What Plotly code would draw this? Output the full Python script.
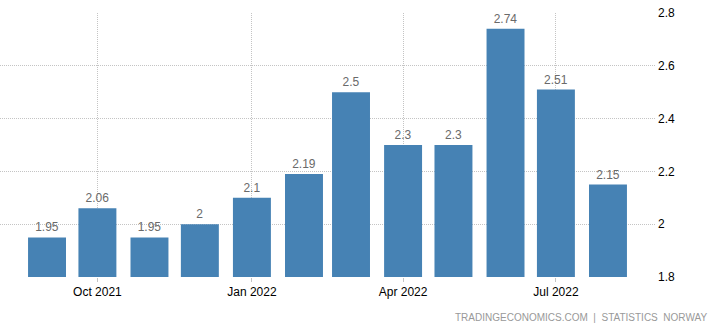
import plotly.graph_objects as go

# Monthly values, Sep 2021 - Aug 2022
months = ["2021-09-01", "2021-10-01", "2021-11-01", "2021-12-01",
          "2022-01-01", "2022-02-01", "2022-03-01", "2022-04-01",
          "2022-05-01", "2022-06-01", "2022-07-01", "2022-08-01"]
values = [1.95, 2.06, 1.95, 2, 2.1, 2.19, 2.5, 2.3, 2.3, 2.74, 2.51, 2.15]
value_labels = ["1.95", "2.06", "1.95", "2", "2.1", "2.19", "2.5", "2.3",
                "2.3", "2.74", "2.51", "2.15"]
y_ticks = [1.8, 2, 2.2, 2.4, 2.6, 2.8]
y_tick_text = ["1.8", "2", "2.2", "2.4", "2.6", "2.8"]

DAY_MS = 86400000
bar_width = 22.6 * DAY_MS
FONT = "Liberation Sans, Arial, sans-serif"
GRID = dict(showgrid=True, gridcolor="#c4c4c4", griddash="1px,1px", gridwidth=1)

fig = go.Figure(
    go.Bar(
        x=months,
        y=values,
        width=[bar_width] * len(months),
        marker=dict(color="#4682B4", line=dict(width=0)),
        text=value_labels,
        textposition="outside",
        textfont=dict(family=FONT, size=12, color="#6a6a6a"),
        cliponaxis=False,
        hoverinfo="x+y",
    )
)

fig.update_layout(
    width=724,
    height=331,
    margin=dict(l=0, r=69, t=13, b=54),
    paper_bgcolor="white",
    plot_bgcolor="white",
    showlegend=False,
    font=dict(family=FONT, size=12, color="#000000"),
    xaxis=dict(
        type="date",
        range=["2021-08-04", "2022-08-29"],
        tick0="2021-10-01",
        dtick="M3",
        tickformat="%b %Y",
        ticks="outside",
        ticklen=4,
        tickcolor="#c4c4c4",
        showline=False,
        zeroline=False,
        tickfont=dict(size=12, color="#000000"),
        **GRID,
    ),
    yaxis=dict(
        side="right",
        range=[1.8, 2.8],
        tickvals=y_ticks,
        ticktext=y_tick_text,
        zeroline=False,
        showline=False,
        ticks="",
        ticklabelstandoff=2,
        tickfont=dict(size=12, color="#000000"),
        **GRID,
    ),
    annotations=[
        dict(
            text="TRADINGECONOMICS.COM\u00a0\u00a0|\u00a0\u00a0STATISTICS\u00a0 NORWAY",
            xref="paper", yref="paper",
            x=709 / 655, y=-0.155,
            xanchor="right", yanchor="middle",
            align="right",
            showarrow=False,
            font=dict(family=FONT, size=10, color="#999999"),
        )
    ],
)

fig.write_html("out.html")
